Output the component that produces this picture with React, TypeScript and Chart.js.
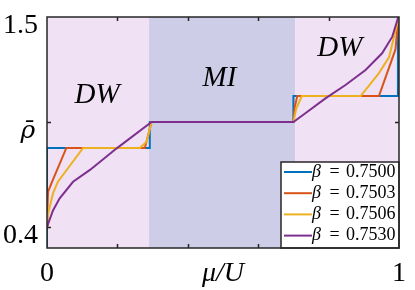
import React, { useEffect, useRef } from 'react';
import { Chart, registerables } from 'chart.js';

Chart.register(...registerables);

// ---- data ----
const betaLabels = ['0.7500', '0.7503', '0.7506', '0.7530'];
const seriesColors = ['#0072BD', '#D95319', '#EDB120', '#7E2F8E'];

const x7500 = [0, 0, 0.292, 0.292, 0.7, 0.7, 0.997, 0.997];
const y7500 = [0.29, 0.814, 0.814, 0.95, 0.95, 1.086, 1.086, 1.5];

const x7503 = [0, 0.001, 0.003, 0.0125, 0.055, 0.278, 0.29, 0.297, 0.7, 0.704, 0.711, 0.943, 0.99, 0.998];
const y7503 = [0.4, 0.48, 0.585, 0.629, 0.814, 0.814, 0.9, 0.95, 0.95, 1.03, 1.086, 1.086, 1.33, 1.5];

const x7506 = [0, 0.002, 0.017, 0.031, 0.1025, 0.264, 0.283, 0.297, 0.7, 0.708, 0.724, 0.891, 0.9425, 0.972, 0.995, 1.0];
const y7506 = [0.4, 0.46, 0.576, 0.637, 0.814, 0.814, 0.847, 0.95, 0.95, 1.02, 1.086, 1.086, 1.205, 1.29, 1.467, 1.5];

const x7530 = [0, 0.017, 0.036, 0.074, 0.122, 0.198, 0.297, 0.7, 0.734, 0.791, 0.848, 0.905, 0.952, 0.981, 0.998];
const y7530 = [0.4, 0.487, 0.55, 0.637, 0.699, 0.812, 0.95, 0.95, 0.996, 1.074, 1.144, 1.222, 1.31, 1.397, 1.5];

const seriesX = [x7500, x7503, x7506, x7530];
const seriesY = [y7500, y7503, y7506, y7530];

const regionEdges = [0, 0.29, 0.705, 1];
const regionNames = ['DW', 'MI', 'DW'];
const regionLabelX = [0.142, 0.49, 0.832];
const regionLabelY = [1.09, 1.18, 1.338];

const xTickValues = [0, 0.2, 0.4, 0.5, 0.6, 0.8, 1];
const xTickLabels = ['0', '', '', 'μ/U', '', '', '1'];
const xMarkValues = [0.2, 0.4, 0.6, 0.8];
const yTickValues = [0.4, 0.95, 1.5];
const yTickLabels = ['0.4', '\u2002\u2009ρ̄', '1.5'];
const yMarkValues = [0.4, 0.95];

const SERIF = '"Liberation Serif", "Times New Roman", serif';
const FRAME = '#262626';
const regionColors = ['#F0E1F4', '#CDCDE7', '#F0E1F4'];

const decor = {
  id: 'decor',
  beforeDatasetsDraw(chart: any) {
    const { ctx, chartArea, scales } = chart;
    const xs = scales.x;
    ctx.save();
    for (let i = 0; i < regionEdges.length - 1; i++) {
      const a = xs.getPixelForValue(regionEdges[i]);
      const b = xs.getPixelForValue(regionEdges[i + 1]);
      ctx.fillStyle = regionColors[i];
      ctx.fillRect(a, chartArea.top, b - a, chartArea.bottom - chartArea.top);
    }
    ctx.restore();
  },
  afterDatasetsDraw(chart: any) {
    const { ctx, chartArea, scales } = chart;
    const xs = scales.x;
    const ys = scales.y;
    const { left, right, top, bottom } = chartArea;
    ctx.save();
    // region names
    ctx.fillStyle = '#000';
    ctx.font = `italic 29px ${SERIF}`;
    ctx.textAlign = 'center';
    ctx.textBaseline = 'middle';
    regionNames.forEach((n, i) => {
      ctx.fillText(n, xs.getPixelForValue(regionLabelX[i]), ys.getPixelForValue(regionLabelY[i]));
    });
    // inward ticks
    ctx.strokeStyle = FRAME;
    ctx.lineWidth = 1.5;
    const L = 4;
    ctx.beginPath();
    xMarkValues.forEach((v) => {
      const p = Math.round(xs.getPixelForValue(v)) + 0.5;
      ctx.moveTo(p, bottom); ctx.lineTo(p, bottom - L);
      ctx.moveTo(p, top); ctx.lineTo(p, top + L);
    });
    yMarkValues.forEach((v) => {
      const p = Math.round(ys.getPixelForValue(v)) + 0.5;
      ctx.moveTo(left, p); ctx.lineTo(left + L, p);
      ctx.moveTo(right, p); ctx.lineTo(right - L, p);
    });
    ctx.stroke();
    // legend
    const lw = 118, lh = 86;
    const lx = right - lw, ly = bottom - lh;
    ctx.fillStyle = '#fff';
    ctx.fillRect(lx, ly, lw, lh);
    ctx.strokeStyle = FRAME;
    ctx.lineWidth = 1.5;
    ctx.strokeRect(lx, ly, lw, lh);
    betaLabels.forEach((b, i) => {
      const cy = ly + 10 + i * 21.2;
      ctx.strokeStyle = seriesColors[i];
      ctx.lineWidth = 2;
      ctx.beginPath();
      ctx.moveTo(lx + 3, cy);
      ctx.lineTo(lx + 31, cy);
      ctx.stroke();
      ctx.fillStyle = '#000';
      ctx.textBaseline = 'middle';
      ctx.textAlign = 'left';
      ctx.font = `italic 18px ${SERIF}`;
      ctx.fillText('β', lx + 31, cy);
      ctx.font = `18px ${SERIF}`;
      ctx.textAlign = 'center';
      ctx.fillText('=', lx + 53.5, cy);
      ctx.textAlign = 'left';
      ctx.fillText(b, lx + 65, cy);
    });
    // frame
    ctx.strokeStyle = FRAME;
    ctx.lineWidth = 1.5;
    ctx.strokeRect(left, top, right - left, bottom - top);
    ctx.restore();
  },
};

export default function App() {
  const ref = useRef<HTMLCanvasElement | null>(null);
  useEffect(() => {
    if (!ref.current) return;
    const datasets = seriesX.map((xsArr, i) => ({
      label: 'β = ' + betaLabels[i],
      data: xsArr.map((x, j) => ({ x, y: seriesY[i][j] })),
      borderColor: seriesColors[i],
      backgroundColor: seriesColors[i],
      borderWidth: 2,
      pointRadius: 0,
      tension: 0,
      fill: false,
      order: seriesX.length - i,
    }));
    const chart = new Chart(ref.current, {
      type: 'line',
      data: { datasets },
      plugins: [decor],
      options: {
        animation: false,
        responsive: false,
        devicePixelRatio: 1,
        layout: { padding: { left: 3, right: 16, top: 17, bottom: 0 } },
        plugins: { legend: { display: false }, tooltip: { enabled: false } },
        scales: {
          x: {
            type: 'linear',
            min: 0,
            max: 1,
            afterBuildTicks: (s: any) => {
              s.ticks = xTickValues.map((v) => ({ value: v }));
            },
            afterFit: (s: any) => {
              s.height = 42;
            },
            grid: { display: false, drawTicks: false },
            border: { display: false },
            ticks: {
              autoSkip: false,
              maxRotation: 0,
              padding: 9,
              color: '#000',
              callback: (v: any) => xTickLabels[xTickValues.indexOf(Number(v))] ?? '',
              font: (c: any) => ({
                family: SERIF,
                size: 28,
                style: c.tick && c.tick.value === 0.5 ? 'italic' : 'normal',
              }),
            },
          },
          y: {
            type: 'linear',
            min: 0.29,
            max: 1.5,
            afterBuildTicks: (s: any) => {
              s.ticks = yTickValues.map((v) => ({ value: v }));
            },
            afterFit: (s: any) => {
              s.width = 44;
            },
            grid: { display: false, drawTicks: false },
            border: { display: false },
            ticks: {
              autoSkip: false,
              crossAlign: 'far',
              padding: 0,
              labelOffset: 9,
              color: '#000',
              callback: (v: any) => yTickLabels[yTickValues.indexOf(Number(v))] ?? '',
              font: (c: any) =>
                c.tick && c.tick.value === 0.95
                  ? { family: '"DejaVu Serif", serif', size: 25, style: 'italic' }
                  : { family: SERIF, size: 28, style: 'normal' },
            },
          },
        },
      },
    } as any);
    return () => chart.destroy();
  }, []);
  return (
    <div style={{ position: 'absolute', left: 0, top: 0, width: 415, height: 290 }}>
      <canvas ref={ref} width={415} height={290} style={{ display: 'block' }} />
    </div>
  );
}
